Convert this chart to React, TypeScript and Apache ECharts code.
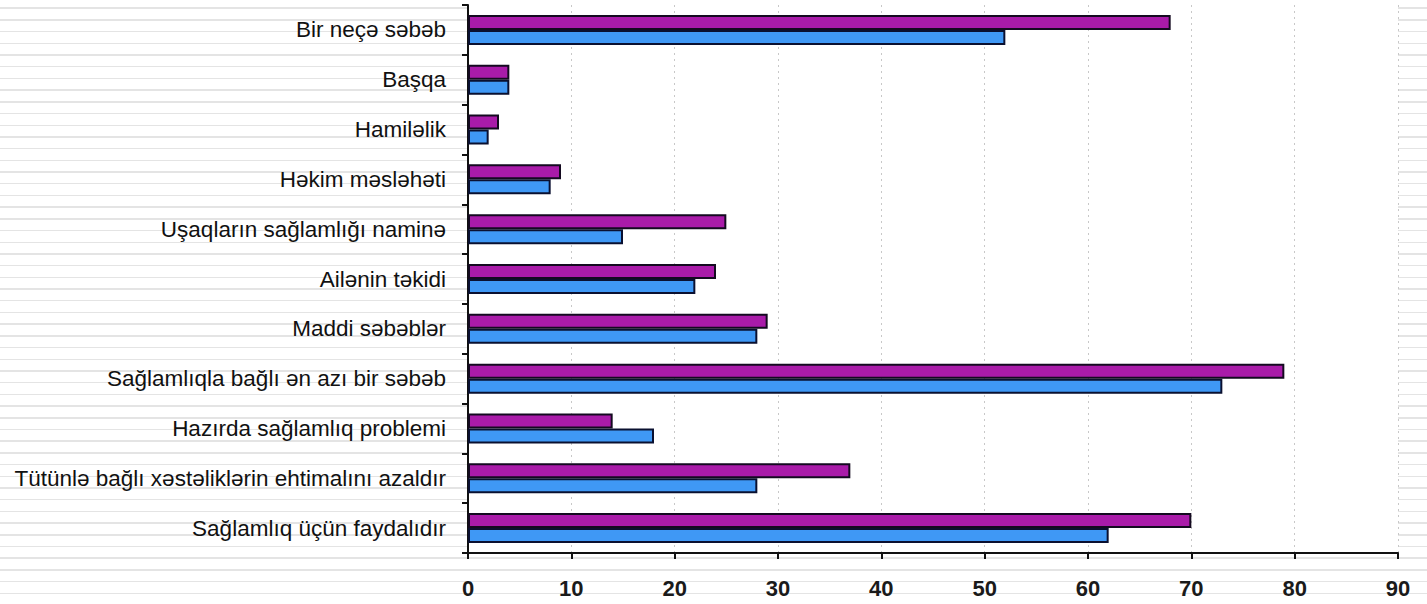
import React, { useEffect, useRef } from "react";
import * as echarts from "echarts";

const categories = [
  "Bir neçə səbəb",
  "Başqa",
  "Hamiləlik",
  "Həkim məsləhəti",
  "Uşaqların sağlamlığı naminə",
  "Ailənin təkidi",
  "Maddi səbəblər",
  "Sağlamlıqla bağlı ən azı bir səbəb",
  "Hazırda sağlamlıq problemi",
  "Tütünlə bağlı xəstəliklərin ehtimalını azaldır",
  "Sağlamlıq üçün faydalıdır",
];
const purpleValues = [68, 4, 3, 9, 25, 24, 29, 79, 14, 37, 70];
const blueValues = [52, 4, 2, 8, 15, 22, 28, 73, 18, 28, 62];
const xMin = 0;
const xMax = 90;
const xInterval = 10;

export default function App() {
  const ref = useRef<HTMLDivElement>(null);
  useEffect(() => {
    if (!ref.current) return;
    const chart = echarts.init(ref.current, undefined, { renderer: "svg" });
    chart.setOption({
      animation: false,
      grid: {
        left: 468,
        right: 29,
        top: 5,
        bottom: 51,
        show: true,
        backgroundColor: "#ffffff",
        borderWidth: 0,
      },
      xAxis: {
        type: "value",
        min: xMin,
        max: xMax,
        interval: xInterval,
        axisLine: { show: true, lineStyle: { color: "#111", width: 2 } },
        axisTick: { show: true, length: 6, lineStyle: { color: "#111", width: 2 } },
        axisLabel: {
          margin: 24,
          fontFamily: "Liberation Sans, Arial, sans-serif",
          fontWeight: "bold",
          fontSize: 22,
          color: "#1a1a1a",
        },
        splitLine: {
          show: true,
          lineStyle: { color: "#c8c8c8", type: [2, 4], width: 1 },
        },
      },
      yAxis: {
        type: "category",
        data: categories,
        inverse: true,
        axisLine: { show: true, lineStyle: { color: "#111", width: 2 } },
        axisTick: { show: true, length: 6, lineStyle: { color: "#111", width: 2 } },
        axisLabel: {
          margin: 22,
          fontFamily: "Liberation Sans, Arial, sans-serif",
          fontSize: 22.5,
          color: "#111",
        },
        splitLine: { show: false },
      },
      series: [
        {
          type: "bar",
          data: purpleValues,
          barWidth: 15,
          barGap: "0%",
          itemStyle: { color: "#a91ba9", borderColor: "#140a20", borderWidth: 2 },
        },
        {
          type: "bar",
          data: blueValues,
          barWidth: 15,
          barGap: "0%",
          itemStyle: { color: "#3f98f5", borderColor: "#0a1030", borderWidth: 2 },
        },
      ],
    });
    return () => chart.dispose();
  }, []);
  return (
    <div
      ref={ref}
      style={{
        position: "absolute",
        left: 0,
        top: 0,
        width: 1427,
        height: 604,
        backgroundImage:
          "repeating-linear-gradient(to bottom, #ffffff 0px, #ffffff 7.5px, #e4e4e4 7.5px, #e4e4e4 9px, #ffffff 9px, #ffffff 11.7px)",
      }}
    />
  );
}
